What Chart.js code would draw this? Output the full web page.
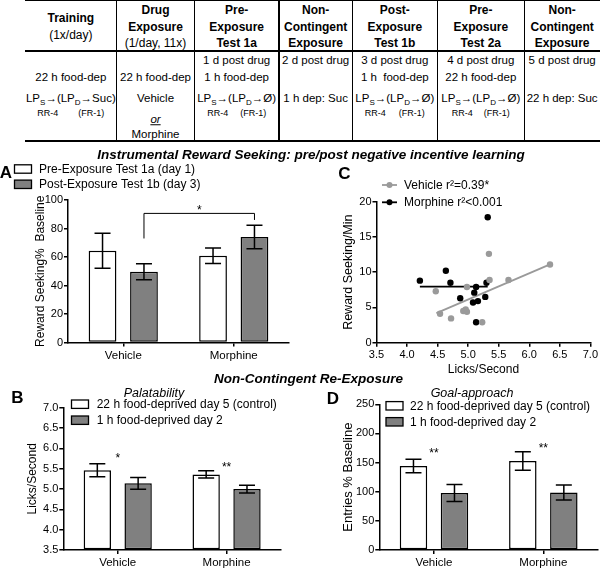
<!DOCTYPE html>
<html>
<head>
<meta charset="utf-8">
<script src="https://cdn.jsdelivr.net/npm/chart.js@4.4.0/dist/chart.umd.min.js"></script>
<style>
  body { margin: 0; background: #fff; }
  #fig { position: relative; width: 600px; height: 577px; overflow: hidden;
         font-family: 'Liberation Sans', Arial, sans-serif; color: #000; }
  canvas { position: absolute; }
  .t { position: absolute; white-space: nowrap; transform: translate(-50%, -50%); line-height: 1; }
  .ln { position: absolute; background: #000; }
  .sb { font-size: 8px; position: relative; top: 3px; }
</style>
</head>
<body>
<div id="fig">
  <canvas id="chartA" width="300" height="220" style="left:0;top:150px"></canvas>
  <canvas id="chartC" width="300" height="228" style="left:300px;top:150px"></canvas>
  <canvas id="chartB" width="300" height="192" style="left:0;top:385px"></canvas>
  <canvas id="chartD" width="300" height="192" style="left:300px;top:385px"></canvas>
</div>
<script>
const groups = ['Vehicle', 'Morphine'];

// A - reward seeking (% baseline), mean and SEM
const seekPre = [64.4, 60.9];
const seekPreSem = [12.3, 5.5];
const seekPost = [49.6, 74.0];
const seekPostSem = [5.6, 8.2];

// B - palatability (licks/second)
const lickCtrl = [5.46, 5.36];
const lickCtrlSem = [0.16, 0.09];
const lickDep = [5.14, 5.00];
const lickDepSem = [0.145, 0.095];
const lickMin = 3.5;

// D - goal approach (entries % baseline)
const entryCtrl = [144, 152.7];
const entryCtrlSem = [11.5, 15.7];
const entryDep = [98, 98.5];
const entryDepSem = [14.6, 12.9];

// C - licks vs reward seeking
const vehLicks = [5.34, 6.34, 5.66, 5.35, 4.47, 4.98, 4.54, 4.72, 4.96, 4.92, 4.98, 5.23];
const vehSeek  = [12.6, 11.1, 8.9, 8.9, 7.3, 7.9, 4.1, 3.45, 4.7, 4.5, 4.4, 2.9];
const morLicks = [5.32, 4.21, 4.635, 4.71, 5.13, 5.30, 5.10, 4.87, 5.08, 5.16, 5.28, 5.13];
const morSeek  = [17.8, 8.8, 10.2, 8.5, 7.9, 8.5, 7.1, 6.3, 5.7, 5.9, 6.5, 2.9];
const vehFit = [[4.48, 4.2], [6.34, 11.1]];
const morFit = [[4.21, 7.95], [5.32, 7.95]];

// significance marks
const starsB = [[0, 5.82, '*'], [1, 5.59, '**']];
const starsD = [[0, 170, '**'], [1, 179, '**']];

const FONT = "'Liberation Sans', Arial, sans-serif";
Chart.defaults.font.family = FONT;
Chart.defaults.color = '#000';

const fig = document.getElementById('fig');
function txt(x, y, html, style) {
  const d = document.createElement('div');
  d.className = 't';
  d.style.left = x + 'px';
  d.style.top = y + 'px';
  if (style) d.style.cssText += style;
  d.innerHTML = html;
  fig.appendChild(d);
}
function line(x, y, w, h) {
  const d = document.createElement('div');
  d.className = 'ln';
  d.style.cssText += `left:${x}px;top:${y}px;width:${w}px;height:${h}px`;
  fig.appendChild(d);
}

// ---------- protocol table ----------
const colEdges = [25, 116.7, 194.3, 279, 352.3, 437.3, 524.3, 600];
const lp = end => `LP<span class="sb">S</span>→(LP<span class="sb">D</span>→${end})`;
const rr = gap => `<span style="font-size:9px">RR-4<span style="margin-left:${gap}px">(FR-1)</span></span>`;
const heads = [
  ['<b>Training</b>', '(1x/day)'],
  ['<b>Drug</b>', '<b>Exposure</b>', '(1/day, 11x)'],
  ['<b>Pre-</b>', '<b>Exposure</b>', '<b>Test 1a</b>'],
  ['<b>Non-</b>', '<b>Contingent</b>', '<b>Exposure</b>'],
  ['<b>Post-</b>', '<b>Exposure</b>', '<b>Test 1b</b>'],
  ['<b>Pre-</b>', '<b>Exposure</b>', '<b>Test 2a</b>'],
  ['<b>Non-</b>', '<b>Contingent</b>', '<b>Exposure</b>']
];
const bodies = [
  [[77.7, '22 h food-dep'], [99.3, lp('Suc')], [113.3, rr(20)]],
  [[77.7, '22 h food-dep'], [99.3, 'Vehicle'], [120, '<i><u>or</u></i>'], [135, 'Morphine']],
  [[61, '1 d post drug'], [77.7, '1 h food-dep'], [99.3, lp('Ø')], [113.3, rr(12)]],
  [[61, '2 d post drug'], [99.3, '1 h dep: Suc']],
  [[61, '3 d post drug'], [77.7, '1 h&nbsp; food-dep'], [99.3, lp('Ø')], [113.3, rr(13)]],
  [[61, '4 d post drug'], [77.7, '22 h food-dep'], [99.3, lp('Ø')], [113.3, rr(11)]],
  [[61, '5 d post drug'], [99.3, '22 h dep: Suc']]
];
heads.forEach((h, i) => {
  const cx = (colEdges[i] + colEdges[i + 1]) / 2;
  const ys = h.length === 3 ? [10, 26.7, 43.3] : [18.3, 35];
  h.forEach((s, k) => txt(cx, ys[k], s, 'font-size:12px'));
  bodies[i].forEach(([y, s]) => txt(cx, y, s, 'font-size:11.5px'));
});
line(25, 0, 575, 1.2);
line(25, 50, 575, 2);
line(25, 139.5, 575, 2);
colEdges.slice(1, -1).forEach(x => line(x - 0.7, 0, 1.4, 141));

// ---------- titles / panel letters ----------
txt(311, 155, 'Instrumental Reward Seeking: pre/post negative incentive learning', 'font-size:13.5px;font-weight:bold;font-style:italic');
txt(308.5, 379, 'Non-Contingent Re-Exposure', 'font-size:13.5px;font-weight:bold;font-style:italic');
txt(154, 393, 'Palatability', 'font-size:12.5px;font-style:italic');
txt(472, 393, 'Goal-approach', 'font-size:12.5px;font-style:italic');
txt(6, 172, 'A', 'font-size:17px;font-weight:bold');
txt(17.5, 397, 'B', 'font-size:17px;font-weight:bold');
txt(344.5, 173, 'C', 'font-size:17px;font-weight:bold');
txt(333, 397.5, 'D', 'font-size:17px;font-weight:bold');

// ---------- plugins ----------
const errorBars = {
  id: 'errorBars',
  afterDatasetsDraw(chart) {
    const ctx = chart.ctx, y = chart.scales.y;
    ctx.save();
    ctx.strokeStyle = '#000';
    ctx.lineWidth = 1.5;
    chart.data.datasets.forEach((ds, i) => {
      if (!ds.errors) return;
      chart.getDatasetMeta(i).data.forEach((bar, j) => {
        const v = ds.data[j], e = ds.errors[j];
        const t = y.getPixelForValue(v + e), b = y.getPixelForValue(v - e);
        ctx.beginPath();
        ctx.moveTo(bar.x, t); ctx.lineTo(bar.x, b);
        ctx.moveTo(bar.x - 8, t); ctx.lineTo(bar.x + 8, t);
        ctx.moveTo(bar.x - 8, b); ctx.lineTo(bar.x + 8, b);
        ctx.stroke();
      });
    });
    ctx.restore();
  }
};

const marks = {
  id: 'marks',
  afterDraw(chart, args, o) {
    const ctx = chart.ctx, x = chart.scales.x, y = chart.scales.y;
    ctx.save();
    ctx.fillStyle = '#000';
    ctx.strokeStyle = '#000';
    ctx.font = '12px ' + FONT;
    ctx.textAlign = 'center';
    ctx.textBaseline = 'middle';
    (o.stars || []).forEach(([i, v, s]) => ctx.fillText(s, x.getPixelForValue(i), y.getPixelForValue(v) + 3));
    if (o.bracket) {
      const b = o.bracket;
      const m0 = chart.getDatasetMeta(b.ds).data[0], m1 = chart.getDatasetMeta(b.ds).data[1];
      const top = y.getPixelForValue(b.top);
      ctx.lineWidth = 1;
      ctx.beginPath();
      ctx.moveTo(m0.x, y.getPixelForValue(b.left));
      ctx.lineTo(m0.x, top);
      ctx.lineTo(m1.x, top);
      ctx.lineTo(m1.x, y.getPixelForValue(b.right));
      ctx.stroke();
      ctx.fillText(b.text, (m0.x + m1.x) / 2, top - 3);
    }
    ctx.restore();
  }
};

const keyLegend = {
  id: 'keyLegend',
  afterDraw(chart, args, o) {
    const ctx = chart.ctx;
    ctx.save();
    ctx.font = '12px ' + FONT;
    ctx.textBaseline = 'middle';
    ctx.textAlign = 'left';
    let row = 0;
    chart.data.datasets.forEach(ds => {
      if (!ds.label) return;
      const yy = o.y + row * o.dy;
      if (o.kind === 'line') {
        ctx.strokeStyle = ds.backgroundColor;
        ctx.fillStyle = ds.backgroundColor;
        ctx.lineWidth = 1.8;
        ctx.beginPath(); ctx.moveTo(o.x, yy); ctx.lineTo(o.x + 15, yy); ctx.stroke();
        ctx.beginPath(); ctx.arc(o.x + 7.5, yy, 3, 0, Math.PI * 2); ctx.fill();
      } else {
        ctx.fillStyle = ds.backgroundColor;
        ctx.strokeStyle = '#000';
        ctx.lineWidth = 1.3;
        ctx.fillRect(o.x, yy - 4.2, 17, 8.4);
        ctx.strokeRect(o.x, yy - 4.2, 17, 8.4);
      }
      ctx.fillStyle = '#000';
      ctx.fillText(ds.label, o.tx, yy + 0.5);
      row++;
    });
    ctx.restore();
  }
};

// ---------- helpers ----------
function axisBase(size) {
  return {
    border: { display: true, color: '#000', width: 1.5 },
    grid: { drawOnChartArea: false, color: '#000', tickLength: 4, lineWidth: 1.5 },
    ticks: { color: '#000', font: { size: size } }
  };
}
function catX(height) {
  const a = axisBase(11.5);
  a.type = 'category';
  a.grid.offset = false;
  a.ticks.padding = 2;
  a.afterFit = s => { s.height = height; };
  return a;
}
function valY(width, min, max, step, title, titleSize, titleOff, fixed) {
  const a = axisBase(11);
  Object.assign(a, { min: min, max: max });
  a.ticks.stepSize = step;
  a.ticks.padding = 1;
  if (fixed) a.ticks.callback = v => v.toFixed(1);
  a.title = { display: true, text: title, font: { size: titleSize }, padding: { top: titleOff, bottom: 0 } };
  a.afterFit = s => { s.width = width; };
  return a;
}
function bars(label, data, errors, fill, base) {
  const d = { label: label, data: data, errors: errors, backgroundColor: fill,
              borderColor: '#000', borderWidth: 1.5, borderSkipped: false,
              categoryPercentage: 0.75, barPercentage: 0.67 };
  if (base !== undefined) d.base = base;
  return d;
}
const common = { responsive: false, animation: false, events: [], devicePixelRatio: 1 };
const noLib = { legend: { display: false }, tooltip: { enabled: false } };

// ---------- A ----------
new Chart(document.getElementById('chartA'), {
  type: 'bar',
  data: { labels: groups, datasets: [
    bars('Pre-Exposure Test 1a (day 1)', seekPre, seekPreSem, '#ffffff'),
    bars('Post-Exposure Test 1b (day 3)', seekPost, seekPostSem, '#808080')
  ]},
  options: Object.assign({}, common, {
    layout: { padding: { left: 0, top: 50, right: 11, bottom: 0 } },
    scales: { x: catX(27.5), y: valY(68, 0, 100, 20, 'Reward Seeking%  Baseline', 12, 33.8) },
    plugins: Object.assign({}, noLib, {
      keyLegend: { x: 14.5, y: 19, dy: 15.3, tx: 39 },
      marks: { bracket: { ds: 1, top: 90.6, left: 73, right: 86, text: '*' } }
    })
  }),
  plugins: [errorBars, marks, keyLegend]
});

// ---------- B ----------
new Chart(document.getElementById('chartB'), {
  type: 'bar',
  data: { labels: groups, datasets: [
    bars('22 h food-deprived day 5 (control)', lickCtrl, lickCtrlSem, '#ffffff', lickMin),
    bars('1 h food-deprived day 2', lickDep, lickDepSem, '#808080', lickMin)
  ]},
  options: Object.assign({}, common, {
    layout: { padding: { left: 0, top: 22.7, right: 19, bottom: 0 } },
    scales: { x: catX(27), y: valY(63.3, lickMin, 7, 0.5, 'Licks/Second', 12, 25.8, true) },
    plugins: Object.assign({}, noLib, {
      keyLegend: { x: 71.5, y: 19.2, dy: 16, tx: 96.7 },
      marks: { stars: starsB }
    })
  }),
  plugins: [errorBars, marks, keyLegend]
});

// ---------- D ----------
new Chart(document.getElementById('chartD'), {
  type: 'bar',
  data: { labels: groups, datasets: [
    bars('22 h food-deprived day 5 (control)', entryCtrl, entryCtrlSem, '#ffffff'),
    bars('1 h food-deprived day 2', entryDep, entryDepSem, '#808080')
  ]},
  options: Object.assign({}, common, {
    layout: { padding: { left: 0, top: 19.3, right: 2, bottom: 0 } },
    scales: { x: catX(27), y: valY(79.3, 0, 250, 50, 'Entries % Baseline', 13, 41) },
    plugins: Object.assign({}, noLib, {
      keyLegend: { x: 86, y: 20.8, dy: 16, tx: 110 },
      marks: { stars: starsD }
    })
  }),
  plugins: [errorBars, marks, keyLegend]
});

// ---------- C ----------
const toPts = (xs, ys) => xs.map((x, i) => ({ x: x, y: ys[i] }));
const vehGray = '#9a9a9a';
const cx = axisBase(11);
Object.assign(cx, { type: 'linear', min: 3.5, max: 7 });
cx.ticks.stepSize = 0.5;
cx.ticks.padding = 2;
cx.ticks.callback = v => v.toFixed(1);
cx.title = { display: true, text: 'Licks/Second', font: { size: 12 }, padding: { top: 0, bottom: 1.5 } };
cx.afterFit = s => { s.height = 35.3; };

new Chart(document.getElementById('chartC'), {
  type: 'scatter',
  data: { datasets: [
    { label: 'Vehicle r²=0.39*', data: toPts(vehLicks, vehSeek), backgroundColor: vehGray,
      borderColor: vehGray, pointRadius: 3.2, pointBorderWidth: 0 },
    { label: 'Morphine r²<0.001', data: toPts(morLicks, morSeek), backgroundColor: '#000',
      borderColor: '#000', pointRadius: 3.2, pointBorderWidth: 0 },
    { data: vehFit.map(p => ({ x: p[0], y: p[1] })), showLine: true, pointRadius: 0,
      borderColor: vehGray, borderWidth: 1.8, backgroundColor: vehGray },
    { data: morFit.map(p => ({ x: p[0], y: p[1] })), showLine: true, pointRadius: 0,
      borderColor: '#000', borderWidth: 1.8, backgroundColor: '#000' }
  ]},
  options: Object.assign({}, common, {
    layout: { padding: { left: 0, top: 51.7, right: 8, bottom: 0 } },
    scales: { x: cx, y: valY(76.5, 0, 20, 5, 'Reward Seeking/Min', 12.5, 41.5) },
    plugins: Object.assign({}, noLib, {
      keyLegend: { kind: 'line', x: 82, y: 35, dy: 17.3, tx: 104 }
    })
  }),
  plugins: [keyLegend]
});
</script>
</body>
</html>
